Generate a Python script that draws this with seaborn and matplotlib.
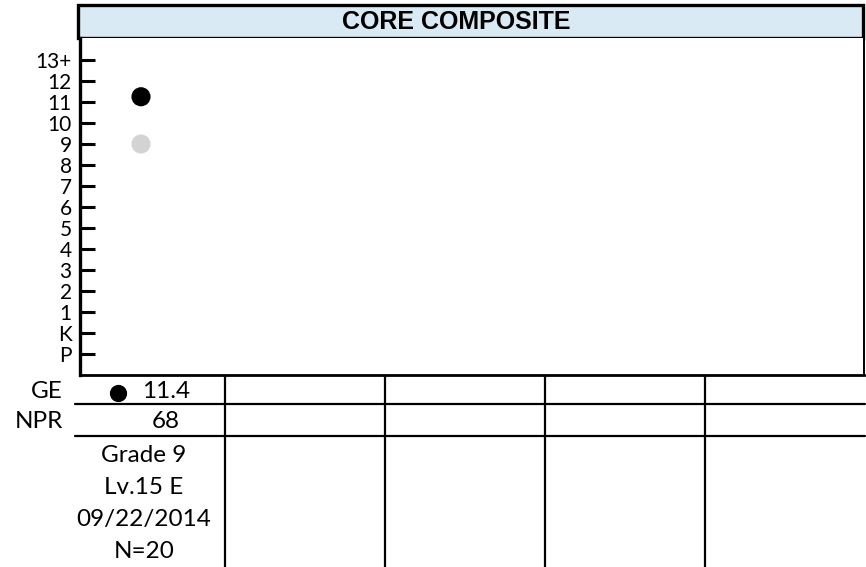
import numpy as np
import pandas as pd
import matplotlib.pyplot as plt
import seaborn as sns
from matplotlib.patches import Rectangle

title = "CORE COMPOSITE"
tick_labels = ["P", "K", "1", "2", "3", "4", "5", "6", "7", "8", "9", "10", "11", "12", "13+"]
tick_values = list(range(-1, 14))

# plotted points (grade scale)
point_x = [0, 0]
point_y = [11.25, 9.0]
point_kind = ["student", "norm"]
point_colors = {"student": "black", "norm": "#d3d3d3"}

row_labels = ["GE", "NPR"]
ge_values = ["11.4"]
npr_values = ["68"]
info_lines = ["Grade 9", "Lv.15 E", "09/22/2014", "N=20"]
n_columns = 5

df = pd.DataFrame({"x": point_x, "y": point_y, "kind": point_kind})

W, H = 866, 567
sns.set_style("white")
plt.rcParams["font.family"] = ["Lato", "DejaVu Sans"]
plt.rcParams["text.color"] = "black"

fig = plt.figure(figsize=(W / 100, H / 100), dpi=100)

# overlay in pixel coordinates for the table below the plot
bg = fig.add_axes([0, 0, 1, 1])
bg.set_xlim(0, W)
bg.set_ylim(H, 0)
bg.axis("off")

# main plot area
L, R, T, B = 80, 864, 38, 375
ax = fig.add_axes([L / W, 1 - B / H, (R - L) / W, (B - T) / H])
col_w = 160
x0 = 141
ax.set_xlim((L - x0) / col_w, (R - x0) / col_w)
ax.set_ylim(-2, -2 + (B - T) / 21.0)

sns.scatterplot(data=df, x="x", y="y", hue="kind", palette=point_colors,
                s=190, edgecolor="none", legend=False, ax=ax, zorder=3)

ax.set_yticks(tick_values)
ax.set_yticklabels(tick_labels, fontsize=15)
ax.set_xticks([])
ax.set_xlabel("")
ax.set_ylabel("")
ax.tick_params(axis="y", direction="in", length=11, width=2.2, pad=6,
               left=True, colors="black")
ax.spines["left"].set_linewidth(2.4)
ax.spines["bottom"].set_linewidth(2.0)
ax.spines["right"].set_linewidth(1.4)
ax.spines["top"].set_visible(False)
for s in ax.spines.values():
    s.set_color("black")

# header box
bg.add_patch(Rectangle((78, 5), 785, 33, facecolor="#daeaf5",
                       edgecolor="black", linewidth=2.4, zorder=5))
bg.text(456, 22, title, ha="center", va="center", fontsize=18,
        fontweight="bold", family="Liberation Sans", color="black", zorder=6)

# table lines
for i in range(1, n_columns):
    xv = 65 + col_w * i
    bg.plot([xv, xv], [375, H], color="black", lw=1.6)
for yh in [404, 436]:
    bg.plot([75, 865], [yh, yh], color="black", lw=1.6)

fs = 17.5
bg.text(63, 392, row_labels[0], ha="right", va="center", fontsize=fs)
bg.text(63, 422, row_labels[1], ha="right", va="center", fontsize=fs)

bg.scatter([118], [393], s=130, color="black", zorder=4)
bg.text(166, 392, ge_values[0], ha="center", va="center", fontsize=fs)
bg.text(166, 422, npr_values[0], ha="center", va="center", fontsize=fs)

for k, line in enumerate(info_lines):
    bg.text(144, 455 + 32.3 * k, line, ha="center", va="center", fontsize=fs)

fig.savefig("out.png", dpi=100)
